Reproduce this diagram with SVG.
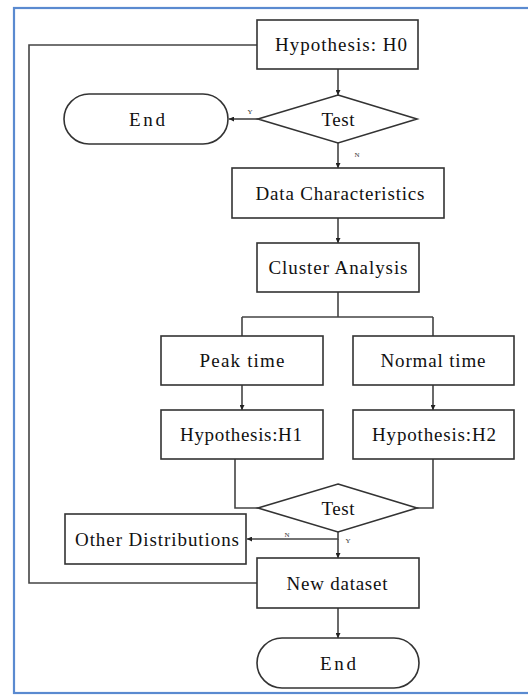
<svg xmlns="http://www.w3.org/2000/svg" width="528" height="695" viewBox="0 0 528 695">
<style>
.box{fill:#fff;stroke:#333;stroke-width:1.6}
.ln{fill:none;stroke:#444;stroke-width:1.6}
.t{font-family:'Liberation Serif','Times New Roman',serif;font-size:19px;fill:#111;text-anchor:middle}
.s{font-family:'Liberation Serif','Times New Roman',serif;font-size:7px;fill:#333;text-anchor:middle}
</style>
<defs>
<marker id="ah" viewBox="0 0 10 10" refX="10" refY="5" markerWidth="5" markerHeight="5" orient="auto" markerUnits="userSpaceOnUse">
<path d="M0,0 L10,5 L0,10 z" fill="#222"/>
</marker>
</defs>
<rect x="0" y="0" width="528" height="695" fill="#fff"/>
<rect id="frame" x="14" y="8" width="530" height="685" fill="none" stroke="#5a8ad0" stroke-width="2.2"/>
<g id="connectors">
<path class="ln" d="M257,45 H29 V583 H257"/>
<path class="ln" d="M338,69 V95" marker-end="url(#ah)"/>
<path class="ln" d="M258,119 H229" marker-end="url(#ah)"/>
<path class="ln" d="M338,143 V168" marker-end="url(#ah)"/>
<path class="ln" d="M338,218 V243" marker-end="url(#ah)"/>
<path class="ln" d="M338,292 V317 M242,317 H433 M242,317 V336 M433,317 V336"/>
<path class="ln" d="M242,385 V410" marker-end="url(#ah)"/>
<path class="ln" d="M433,385 V410" marker-end="url(#ah)"/>
<path class="ln" d="M235,459 V508 H258 M433,459 V508 H417"/>
<path class="ln" d="M338,532 V539 H247" marker-end="url(#ah)"/>
<path class="ln" d="M338,539 V558" marker-end="url(#ah)"/>
<path class="ln" d="M338,608 V638" marker-end="url(#ah)"/>
<text class="s" x="250" y="114">Y</text>
<text class="s" x="357" y="157">N</text>
<text class="s" x="287" y="537">N</text>
<text class="s" x="348" y="543">Y</text>
</g>
<g id="h0"><rect class="box" x="257" y="20" width="161" height="49"/><text class="t" x="341" y="51" textLength="132" lengthAdjust="spacing">Hypothesis: H0</text></g>
<g id="test1"><polygon class="box" points="338,95 417,119 338,143 258,119"/><text class="t" x="338" y="126" textLength="33" lengthAdjust="spacing">Test</text></g>
<g id="end1"><rect class="box" x="64" y="94" width="164" height="50" rx="25" ry="25"/><text class="t" x="147" y="126" textLength="36" lengthAdjust="spacing">End</text></g>
<g id="data"><rect class="box" x="232" y="168" width="212" height="50"/><text class="t" x="340" y="200" textLength="169" lengthAdjust="spacing">Data Characteristics</text></g>
<g id="cluster"><rect class="box" x="257" y="243" width="162" height="49"/><text class="t" x="338" y="274" textLength="139" lengthAdjust="spacing">Cluster Analysis</text></g>
<g id="peak"><rect class="box" x="161" y="336" width="162" height="49"/><text class="t" x="242" y="367" textLength="85" lengthAdjust="spacing">Peak time</text></g>
<g id="normal"><rect class="box" x="353" y="336" width="161" height="49"/><text class="t" x="433" y="367" textLength="105" lengthAdjust="spacing">Normal time</text></g>
<g id="h1"><rect class="box" x="161" y="410" width="162" height="49"/><text class="t" x="241" y="441" textLength="122" lengthAdjust="spacing">Hypothesis:H1</text></g>
<g id="h2"><rect class="box" x="353" y="410" width="161" height="49"/><text class="t" x="434" y="441" textLength="124" lengthAdjust="spacing">Hypothesis:H2</text></g>
<g id="test2"><polygon class="box" points="338,484 417,508 338,532 258,508"/><text class="t" x="338" y="515" textLength="33" lengthAdjust="spacing">Test</text></g>
<g id="other"><rect class="box" x="65" y="514" width="181" height="50"/><text class="t" x="157" y="546" textLength="164" lengthAdjust="spacing">Other Distributions</text></g>
<g id="newds"><rect class="box" x="257" y="558" width="162" height="50"/><text class="t" x="337" y="590" textLength="101" lengthAdjust="spacing">New dataset</text></g>
<g id="end2"><rect class="box" x="257" y="638" width="162" height="50" rx="25" ry="25"/><text class="t" x="338" y="670" textLength="36" lengthAdjust="spacing">End</text></g>
</svg>
